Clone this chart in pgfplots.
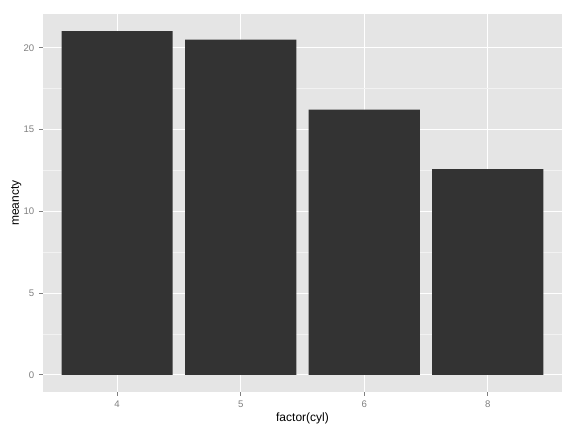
\documentclass[border=0pt]{standalone}
\usepackage{pgfplots}
\pgfplotsset{compat=1.18}
\usepackage{fontspec}
\setmainfont{Liberation Sans}
\definecolor{panelbg}{HTML}{E5E5E5}
\definecolor{minorg}{HTML}{F2F2F2}
\definecolor{barc}{HTML}{333333}
\definecolor{tickc}{HTML}{7F7F7F}
\begin{document}
\begin{tikzpicture}
\useasboundingbox (-32.25pt,-30pt) rectangle (399.75pt,294pt);
\begin{axis}[
  at={(0,0)}, anchor=south west,
  scale only axis, width=389.25pt, height=283.5pt,
  xmin=0.4, xmax=4.6, ymin=-1.0505, ymax=22.0605,
  axis line style={draw=none},
  axis background/.style={fill=panelbg},
  xtick={1,2,3,4}, xticklabels={4,5,6,8},
  ytick={0,5,10,15,20},
  minor ytick={2.5,7.5,12.5,17.5},
  grid=both,
  major grid style={white, line width=0.75pt},
  minor grid style={minorg, line width=0.4pt},
  tick style={tickc, line width=0.6pt},
  major tick length=3pt,
  minor tick length=0pt,
  tick align=outside,
  xtick pos=bottom, ytick pos=left,
  ticklabel style={font=\fontsize{7.2}{8}\selectfont, text=tickc},
  /pgf/number format/assume math mode=true,
  xlabel={factor(cyl)}, ylabel={meancty},
  label style={font=\fontsize{9}{10}\selectfont},
  xlabel style={yshift=3pt},
  ylabel style={yshift=-5.25pt},
  axis on top=false,
]
\addplot[ybar, bar width=0.9, fill=barc, draw=none, bar shift=0pt] coordinates {(1,21.01) (2,20.5) (3,16.22) (4,12.57)};
\end{axis}
\end{tikzpicture}
\end{document}
